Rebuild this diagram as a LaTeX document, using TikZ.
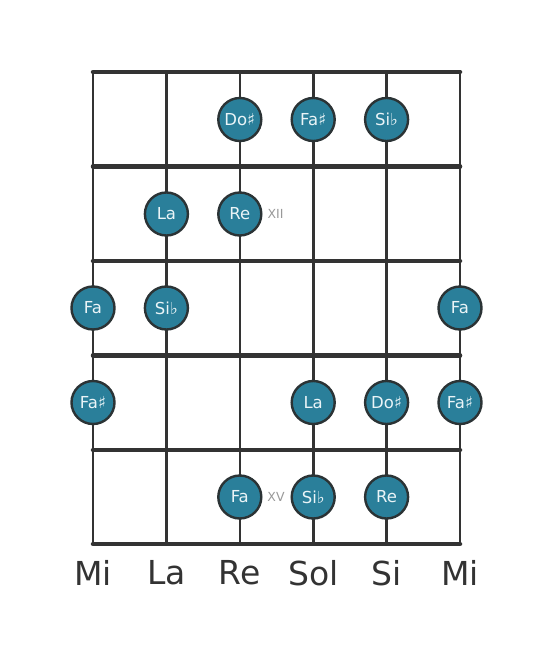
\documentclass[tikz,border=0pt]{standalone}
\usepackage{fontspec}
\setmainfont{DejaVu Sans}
\definecolor{teal1}{HTML}{2A7F9A}
\definecolor{edge1}{HTML}{2B3335}
\definecolor{line1}{HTML}{333333}
\definecolor{txt1}{HTML}{EAF4F7}
\tikzset{
  note/.style={circle, draw=edge1, line width=2.4pt, fill=teal1, minimum size=43pt, inner sep=0pt,
    text=txt1, font=\fontsize{16.5}{17}\selectfont},
  fret/.style={line1, line width=4.5pt},
  gstring/.style={line1, line width=2.6pt},
  fretmark/.style={text=gray!80, font=\fontsize{12.5}{13}\selectfont},
  sname/.style={text=line1, font=\fontsize{33}{35}\selectfont}
}
\begin{document}
\begin{tikzpicture}[x=1pt,y=-1pt]
\useasboundingbox (0,0) rectangle (553,656);
% coordinates
\foreach \i/\x in {1/93,2/166.4,3/239.8,4/313.2,5/386.6,6/460}{
  \coordinate (st\i) at (\x,72);
  \coordinate (sb\i) at (\x,544);
}
\foreach \j/\y in {1/72,2/166.5,3/261,4/355.5,5/450,6/544}{
  \coordinate (fl\j) at (93,\y);
  \coordinate (fr\j) at (460,\y);
}
\foreach \i in {1,...,6}{ \draw[gstring] (st\i) -- (sb\i); }
\foreach \j in {1,...,6}{ \draw[fret, line cap=round] (fl\j) -- (fr\j); }
% notes
\node[note] (n1) at (239.8,119.5) {Do♯};
\node[note] (n2) at (313.2,119.5) {Fa♯};
\node[note] (n3) at (386.6,119.5) {Si♭};
\node[note] (n4) at (166.4,214) {La};
\node[note] (n5) at (239.8,214) {Re};
\node[fretmark] (p1) at (275.5,214) {XII};
\node[note] (n6) at (93,308) {Fa};
\node[note] (n7) at (166.4,308) {Si♭};
\node[note] (n8) at (460,308) {Fa};
\node[note] (n9) at (93,402.5) {Fa♯};
\node[note] (n10) at (313.2,402.5) {La};
\node[note] (n11) at (386.6,402.5) {Do♯};
\node[note] (n12) at (460,402.5) {Fa♯};
\node[note] (n13) at (239.8,497) {Fa};
\node[fretmark] (p2) at (276,497) {XV};
\node[note] (n14) at (313.2,497) {Si♭};
\node[note] (n15) at (386.6,497) {Re};
% string names
\node[sname] (s1) at (93,573) {Mi};
\node[sname] (s2) at (166.4,573) {La};
\node[sname] (s3) at (239.8,573) {Re};
\node[sname] (s4) at (313.2,573) {Sol};
\node[sname] (s5) at (386.6,573) {Si};
\node[sname] (s6) at (460,573) {Mi};
\end{tikzpicture}
\end{document}
